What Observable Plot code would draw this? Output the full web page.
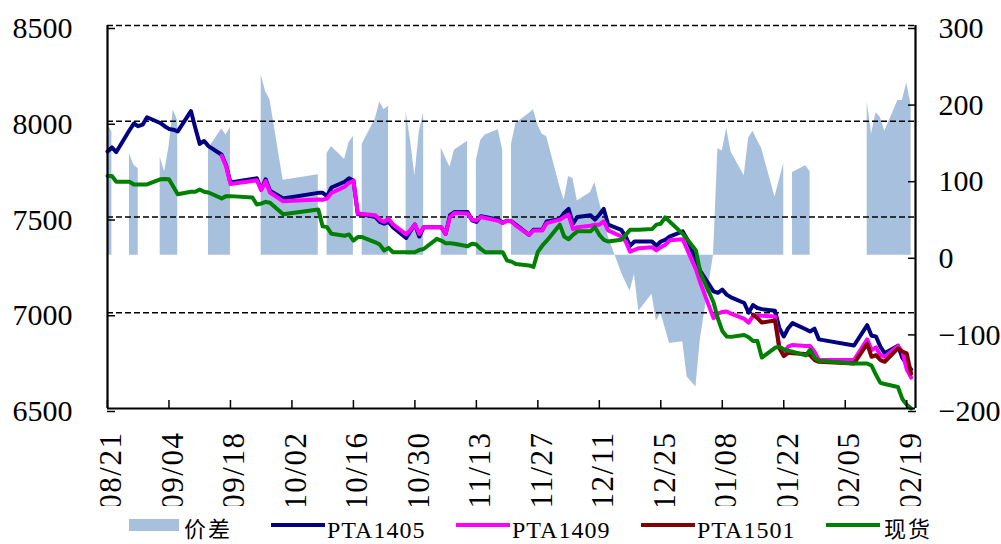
<!DOCTYPE html>
<html><head><meta charset="utf-8">
<script src="https://cdn.jsdelivr.net/npm/d3@7"></script>
<script src="https://cdn.jsdelivr.net/npm/@observablehq/plot@0.6"></script>
<style>
html,body{margin:0;padding:0;background:#fff;}
body{width:1001px;height:544px;overflow:hidden;}
#chart{width:1001px;height:506px;overflow:hidden;position:relative;}
#chart svg{overflow:hidden;}
#chart g[aria-label="x-axis tick label"] text{letter-spacing:1.5px;}
#legend{position:relative;width:1001px;height:38px;}
.sw{position:absolute;}
.lt{position:absolute;top:12px;line-height:24px;font-family:"Liberation Serif",serif;font-size:24px;letter-spacing:1px;color:#000;white-space:nowrap;}
.cjk{font-family:"Noto Sans CJK SC",sans-serif;font-size:22px;line-height:22px;top:10px;letter-spacing:2px;}
</style></head>
<body>
<div id="chart"></div>
<div id="legend"></div>
<script>
const dates = [
"2013-08-21","2013-08-22","2013-08-23","2013-08-26","2013-08-27","2013-08-28","2013-08-29","2013-08-30",
"2013-09-02","2013-09-03","2013-09-04","2013-09-05","2013-09-06","2013-09-09","2013-09-10","2013-09-11","2013-09-12","2013-09-13","2013-09-16","2013-09-17","2013-09-18","2013-09-23","2013-09-24","2013-09-25","2013-09-26","2013-09-27","2013-09-30",
"2013-10-08","2013-10-09","2013-10-10","2013-10-11","2013-10-14","2013-10-15","2013-10-16","2013-10-17","2013-10-18","2013-10-21","2013-10-22","2013-10-23","2013-10-24","2013-10-25","2013-10-28","2013-10-29","2013-10-30","2013-10-31",
"2013-11-01","2013-11-04","2013-11-05","2013-11-06","2013-11-07","2013-11-08","2013-11-11","2013-11-12","2013-11-13","2013-11-14","2013-11-15","2013-11-18","2013-11-19","2013-11-20","2013-11-21","2013-11-22","2013-11-25","2013-11-26","2013-11-27","2013-11-28","2013-11-29",
"2013-12-02","2013-12-03","2013-12-04","2013-12-05","2013-12-06","2013-12-09","2013-12-10","2013-12-11","2013-12-12","2013-12-13","2013-12-16","2013-12-17","2013-12-18","2013-12-19","2013-12-20","2013-12-23","2013-12-24","2013-12-25","2013-12-26","2013-12-27","2013-12-30","2013-12-31",
"2014-01-02","2014-01-03","2014-01-06","2014-01-07","2014-01-08","2014-01-09","2014-01-10","2014-01-13","2014-01-14","2014-01-15","2014-01-16","2014-01-17","2014-01-20","2014-01-21","2014-01-22","2014-01-23","2014-01-24","2014-01-27","2014-01-28","2014-01-29","2014-01-30",
"2014-02-07","2014-02-10","2014-02-11","2014-02-12","2014-02-13","2014-02-14","2014-02-17","2014-02-18","2014-02-19","2014-02-20"
];
const pta1405 = [
7842,7863,7839,7953,7988,7974,7982,8021,
7991,7974,7960,7956,7947,8053,7965,7882,7897,7870,7825,7770,7680,7698,7702,7644,7697,7637,7597,
7626,7626,7609,7654,7684,7702,7690,7514,7514,7500,7474,7465,7474,7447,7391,7426,7461,7398,
7447,7447,7447,7412,7510,7526,7526,7482,7474,7504,7500,7486,7470,7481,7477,7460,7407,7433,7433,7433,7477,
7489,7521,7542,7465,7500,7509,7486,7512,7542,7460,7433,7398,7349,7372,7372,7372,7350,7372,7381,7398,7425,7384,
7275,7218,7112,7104,7121,7095,7080,7051,7000,7040,7025,7019,7010,6919,6876,6919,6946,6914,6902,6917,6861,
6829,6935,6880,6876,6823,6788,6828,6765,6730,6705
];
const pta1409 = [
null,null,null,null,null,null,null,null,
null,null,null,null,null,null,null,null,null,null,7819,7765,7672,7688,7692,7640,7688,7628,7582,
7591,7590,7596,7626,7658,7679,7689,7518,7516,7509,7486,7474,7491,7461,7409,7433,7461,7412,
7447,7447,7447,7412,7500,7521,7518,7486,7482,7500,7495,7480,7468,7481,7477,7455,7407,7430,7430,7430,7468,
7486,7500,7512,7437,7447,7454,7460,7460,7477,7430,7398,7372,7319,7328,7337,7342,7325,7342,7355,7378,7384,7330,
7226,7156,6972,6995,7004,7007,6995,6968,6948,6984,6984,6984,6981,6818,6791,6823,6832,6826,6826,6797,6753,
6753,6861,6805,6819,6779,6770,6826,6797,6705,6661
];
const pta1501 = [
null,null,null,null,null,null,null,null,
null,null,null,null,null,null,null,null,null,null,null,null,null,null,null,null,null,null,null,
null,null,null,null,null,null,null,null,null,null,null,null,null,null,null,null,null,null,
null,null,null,null,null,null,null,null,null,null,null,null,null,null,null,null,null,null,null,null,null,
null,null,null,null,null,null,null,null,null,null,null,null,null,null,null,null,null,null,null,null,null,null,
null,null,null,null,null,null,null,null,null,6990,6972,6949,6960,6814,6774,6791,6788,6784,6779,6753,6744,
6735,6837,6770,6779,6753,6744,6814,6797,6788,6682
];
const spot = [
7714,7714,7684,7684,7670,7670,7670,7670,
7697,7698,7697,7658,7619,7632,7632,7644,7632,7628,7597,7609,7609,7602,7565,7570,7579,7574,7514,
7539,7451,7447,7412,7402,7409,7377,7395,7395,7368,7356,7325,7339,7316,7316,7316,7316,7328,
7333,7386,7377,7363,7363,7360,7347,7360,7356,7333,7316,7316,7316,7272,7267,7254,7247,7239,7318,7350,7375,
7460,7398,7384,7407,7425,7425,7447,7407,7381,7372,7381,7407,7433,7433,7433,7437,7460,7465,7498,7477,7412,7384,
7325,7209,7055,6970,6905,6876,6874,6884,6872,6852,6852,6766,6817,6823,6809,6802,6797,6777,6807,6765,6749,
6735,6735,6724,6676,6634,6628,6612,6550,6520,6500
];
const spread = [
172,161,null,133,118,113,null,null,
128,109,141,190,175,null,null,null,null,139,165,157,167,null,null,236,214,203,98,
105,null,133,142,125,147,155,null,145,178,200,190,195,null,188,150,104,161,
186,null,140,127,115,137,149,null,124,150,157,164,137,null,145,172,185,190,170,158,155,
90,72,103,100,71,82,95,70,50,25,-22,-35,-47,-25,-73,-51,-86,-75,-95,-115,-113,-159,
-172,-110,0,139,136,166,135,104,153,162,150,139,76,98,120,null,108,117,109,null,null,
null,200,158,186,180,162,202,202,225,196
];
const xTickDates = ["2013-08-21","2013-09-04","2013-09-18","2013-10-02","2013-10-16","2013-10-30","2013-11-13","2013-11-27","2013-12-11","2013-12-25","2014-01-08","2014-01-22","2014-02-05","2014-02-19"];
const xDomainDates = ["2013-08-21","2014-02-21"];
const leftTicks = [6500,7000,7500,8000,8500];
const gridValues = [7000,7500,8000,8500];
const rightTicks = [-200,-100,0,100,200,300];
const seriesNames = ["价差","PTA1405","PTA1409","PTA1501","现货"];
const seriesColors = ["#A7C0DE","#000080","#FF00FF","#800000","#008000"];

// right-axis (spread) mapped onto left-axis units: -200..300 -> 6500..8500
const toLeft = s => 7300 + s * 4;
const fromLeft = v => (v - 7300) / 4;
const num = v => (v == null ? NaN : v);

const data = dates.map((d, i) => ({
  date: new Date(d), a: pta1405[i], b: pta1409[i], c: pta1501[i], g: spot[i], s: spread[i]
}));
const xDomain = xDomainDates.map(d => new Date(d));
const xTicks = xTickDates.map(d => new Date(d));
const fmtDate = d3.utcFormat("%m/%d");
const fmtNum = v => String(Math.round(v)).replace("-", "\u2212");
const serif = "Liberation Serif";

const chart = Plot.plot({
  width: 1001, height: 506,
  marginLeft: 107, marginRight: 86, marginTop: 25, marginBottom: 98,
  style: {background: "white", overflow: "hidden"},
  x: {type: "utc", domain: xDomain},
  y: {domain: [6500, 8500]},
  marks: [
    Plot.areaY(data, {x: "date", y1: toLeft(0), y2: d => d.s == null ? NaN : toLeft(d.s), fill: seriesColors[0], curve: "linear"}),
    Plot.ruleY(gridValues, {stroke: "black", strokeWidth: 1.7, strokeDasharray: "6,3"}),
    Plot.lineY(data, {x: "date", y: d => num(d.a), stroke: seriesColors[1], strokeWidth: 4}),
    Plot.lineY(data, {x: "date", y: d => num(d.b), stroke: seriesColors[2], strokeWidth: 4}),
    Plot.lineY(data, {x: "date", y: d => num(d.c), stroke: seriesColors[3], strokeWidth: 4}),
    Plot.lineY(data, {x: "date", y: d => num(d.g), stroke: seriesColors[4], strokeWidth: 4}),
    Plot.ruleY([6500], {stroke: "black", strokeWidth: 2.2}),
    Plot.ruleX(xDomain, {stroke: "black", strokeWidth: 2.2}),
    // left axis: inward ticks + labels
    Plot.axisY(leftTicks, {anchor: "left", tickSize: 8, dx: 8, tickPadding: 35, dy: 3, tickFormat: d => String(d),
      fontSize: 30, fontFamily: serif, strokeWidth: 1.5, label: null}),
    // right axis for the spread
    Plot.axisY(rightTicks.map(toLeft), {anchor: "right", tickSize: 8, dx: -8, tickPadding: 23, dy: 3,
      tickFormat: v => fmtNum(fromLeft(v)), fontSize: 30, fontFamily: serif, strokeWidth: 1.5, label: null}),
    // bottom axis: inward ticks
    Plot.axisX(xTicks, {anchor: "bottom", tickSize: 8, dy: -8, tickFormat: () => null, strokeWidth: 1.5, label: null}),
    // bottom axis: rotated labels
    Plot.axisX(xTicks, {anchor: "bottom", tickSize: 0, tickPadding: 23, dx: 4, tickRotate: -90,
      tickFormat: fmtDate, fontSize: 31, fontFamily: serif, label: null})
  ]
});
document.getElementById("chart").appendChild(chart);

// legend
const legend = document.getElementById("legend");
const swX = [129, 271, 456, 641, 826];
const txX = [184, 327, 512, 697, 884];
seriesNames.forEach((name, i) => {
  const sw = document.createElement("div");
  sw.className = "sw";
  sw.style.left = swX[i] + "px";
  if (i === 0) {
    sw.style.top = "13px"; sw.style.width = "50px"; sw.style.height = "12px";
  } else {
    sw.style.top = "17px"; sw.style.width = "54px"; sw.style.height = "4px";
  }
  sw.style.background = seriesColors[i];
  legend.appendChild(sw);
  const t = document.createElement("div");
  t.className = "lt" + (/[\u4e00-\u9fff]/.test(name) ? " cjk" : "");
  t.style.left = txX[i] + "px";
  t.textContent = name;
  legend.appendChild(t);
});
</script>
</body></html>
